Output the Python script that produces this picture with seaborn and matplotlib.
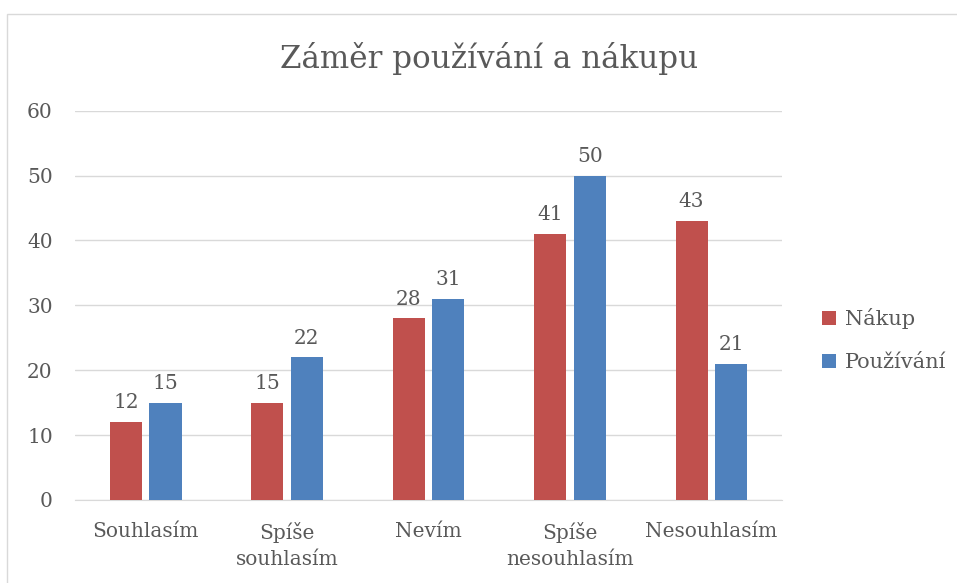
import matplotlib
matplotlib.use("Agg")
import matplotlib.pyplot as plt
import seaborn as sns
import pandas as pd
from matplotlib.patches import Rectangle

# data
categories = ["Souhlasím", "Spíše\nsouhlasím", "Nevím", "Spíše\nnesouhlasím", "Nesouhlasím"]
nakup = [12, 15, 28, 41, 43]
pouzivani = [15, 22, 31, 50, 21]
series_names = ["Nákup", "Používání"]

df = pd.DataFrame({
    "kategorie": categories * 2,
    "hodnota": nakup + pouzivani,
    "serie": [series_names[0]] * len(categories) + [series_names[1]] * len(categories),
})

sns.set_style("white")
plt.rcParams["font.family"] = ["DejaVu Serif"]
text_col = "#595959"

fig = plt.figure(figsize=(9.57, 5.83), dpi=100)
ax = fig.add_axes([0.0784, 0.1424, 0.7388, 0.6677])

sns.barplot(
    data=df, x="kategorie", y="hodnota", hue="serie",
    palette=["#C0504D", "#4F81BD"], saturation=1, width=0.56, gap=0.19,
    linewidth=0, errorbar=None, ax=ax, zorder=3,
)

for cont in ax.containers:
    ax.bar_label(cont, padding=7, fontsize=14.5, color=text_col)

ax.set_ylim(0, 60)
ax.set_yticks(range(0, 61, 10))
ax.yaxis.grid(True, color="#D9D9D9", linewidth=1)
ax.set_axisbelow(True)
for s in ["top", "right", "left"]:
    ax.spines[s].set_visible(False)
ax.spines["bottom"].set_color("#D9D9D9")
ax.tick_params(axis="both", length=0, labelsize=14.5, labelcolor=text_col)
ax.tick_params(axis="y", pad=16)
ax.tick_params(axis="x", pad=16)
for lbl in ax.get_xticklabels():
    lbl.set_linespacing(1.45)
ax.set_xlabel("")
ax.set_ylabel("")

fig.text(0.511, 0.90, "Záměr používání a nákupu", ha="center", va="center",
         fontsize=22.3, color=text_col)

ax.legend(loc="center left", bbox_to_anchor=(1.03, 0.41), frameon=False,
          fontsize=15, labelcolor=text_col, handlelength=0.65, handleheight=0.65,
          handletextpad=0.45, labelspacing=1.15, borderaxespad=0.5)

# chart outline
fig.patches.append(Rectangle((0.007, -0.01), 1.2, 0.986, transform=fig.transFigure,
                             fill=False, edgecolor="#D9D9D9", linewidth=1))

fig.savefig("out.png", dpi=100)
